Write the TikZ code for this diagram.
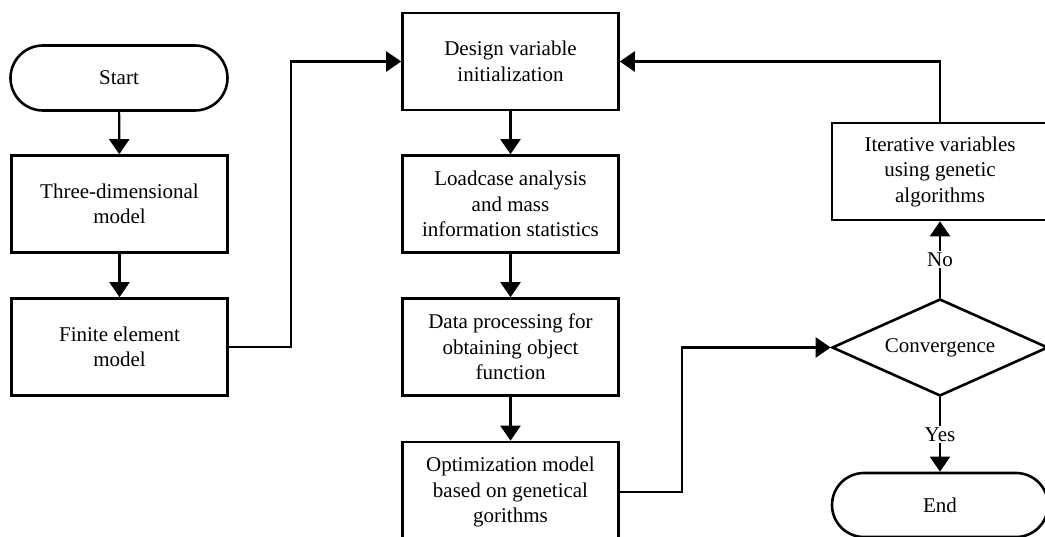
\documentclass[tikz,border=0pt]{standalone}
\usepackage{fontspec}
\setmainfont{Liberation Serif}
\usetikzlibrary{arrows.meta,shapes.misc,shapes.geometric}
\newcommand\boxfont{\fontsize{21}{25.5}\selectfont}
\begin{document}
\begin{tikzpicture}[x=1pt,y=-1pt,
  box/.style={draw,line width=2.6pt,rectangle,minimum width=216pt,minimum height=97pt,align=center,inner sep=0pt,font=\boxfont},
  term/.style={draw,line width=2.6pt,rounded rectangle,minimum width=217pt,minimum height=65pt,inner sep=0pt,font=\boxfont},
  dec/.style={draw,line width=2.6pt,diamond,aspect=2.2,minimum width=216pt,minimum height=97pt,inner sep=0pt,font=\boxfont},
  conn/.style={line width=2.2pt,-{Triangle[length=15pt,width=20pt]}},
  lbl/.style={fill=white,inner sep=1.5pt,font=\boxfont}]
\useasboundingbox (0,0) rectangle (1045,537);

\node[term] (start) at (119,78) {Start};
\node[box] (three) at (119.5,204) {Three-dimensional\\model};
\node[box] (fem) at (119.5,347) {Finite element\\model};
\node[box] (design) at (510.5,61.5) {Design variable\\initialization};
\node[box] (load) at (510.5,204) {Loadcase analysis\\and mass\\information statistics};
\node[box] (data) at (510.5,347) {Data processing for\\obtaining object\\function};
\node[box,minimum height=100pt] (opt) at (510.5,492) {Optimization model\\based on genetical\\gorithms};
\node[dec] (conv) at (940,347.5) {Convergence};
\node[box] (iter) at (940,171.5) {Iterative variables\\using genetic\\algorithms};
\node[term,minimum width=216pt,minimum height=64pt] (end) at (940,505) {End};

\coordinate (j1) at (291,0);
\coordinate (j2) at (682,0);

\draw[conn] (start) -- (three);
\draw[conn] (three) -- (fem);
\draw[conn] (fem.east) -- (fem.east -| j1) -- (j1 |- design.west) -- (design.west);
\draw[conn] (design) -- (load);
\draw[conn] (load) -- (data);
\draw[conn] (data) -- (opt);
\draw[conn] (opt.east) -- (opt.east -| j2) -- (j2 |- conv.west) -- (conv.west);
\draw[conn] (conv.north) -- node[lbl]{No} (iter.south);
\draw[conn] (conv.south) -- node[lbl]{Yes} (end.north);
\draw[conn] (iter.north) |- (design.east);
\end{tikzpicture}
\end{document}
